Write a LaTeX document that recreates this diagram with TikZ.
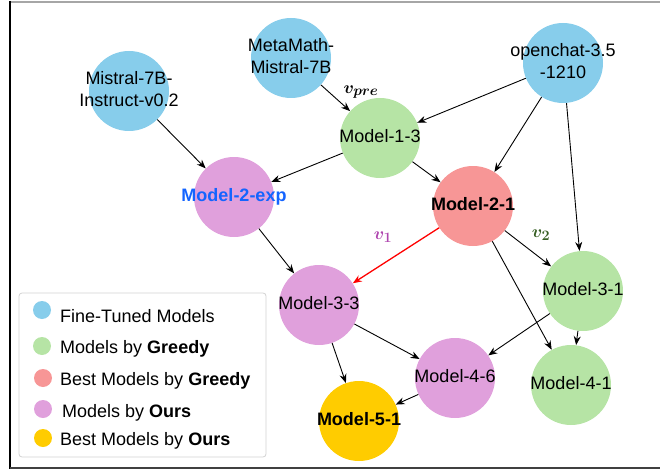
\documentclass[tikz,border=0pt]{standalone}
\usepackage{fontspec}
\setmainfont{Liberation Sans}
\usetikzlibrary{arrows.meta}
\definecolor{ftblue}{RGB}{135,205,235}
\definecolor{grgreen}{RGB}{182,228,165}
\definecolor{bestred}{RGB}{247,150,150}
\definecolor{ourpink}{RGB}{224,160,220}
\definecolor{bestgold}{RGB}{255,204,0}
\definecolor{expblue}{RGB}{20,100,255}
\definecolor{vpurple}{RGB}{175,70,175}
\definecolor{vgreen}{RGB}{55,95,35}
\newcommand{\ctxt}[1]{\makebox[0pt]{\begin{tabular}{@{}c@{}}#1\end{tabular}}}
\newcommand{\subtxt}[1]{\mbox{\fontsize{14}{14}\selectfont$#1$}}
\tikzset{
  mnode/.style={circle,minimum size=80pt,inner sep=0pt,font=\fontsize{18}{22}\selectfont},
  ft/.style={mnode,fill=ftblue},
  gr/.style={mnode,fill=grgreen},
  br/.style={mnode,fill=bestred},
  ou/.style={mnode,fill=ourpink},
  bo/.style={mnode,fill=bestgold},
  edge/.style={-{Stealth[length=9pt,width=7pt]},line width=0.9pt,black},
  redge/.style={-{Stealth[length=9pt,width=7pt]},line width=1.3pt,red},
  legdot/.style={circle,minimum size=18pt,inner sep=0pt},
  legtxt/.style={anchor=west,inner sep=0pt,font=\fontsize{18}{22}\selectfont},
  vlab/.style={font=\fontsize{19}{22}\selectfont\boldmath},
}
\begin{document}
\begin{tikzpicture}[x=1pt,y=-1pt]
\useasboundingbox (0,0) rectangle (660,473);
% frame
\draw[line width=2pt,gray!70] (10,2) -- (660,2);
\draw[line width=2.5pt,black] (10,1) -- (10,469);
\draw[line width=2pt,black!75] (10,467.5) -- (660,467.5);

% nodes
\node[ft] (mis) at (129,91) {\ctxt{Mistral-7B-\\Instruct-v0.2}};
\node[ft] (meta) at (291,58) {\ctxt{MetaMath-\\Mistral-7B}};
\node[ft] (oc) at (563,63) {\ctxt{openchat-3.5\\-1210}};
\node[gr] (m13) at (380,138) {\ctxt{Model-1-3}};
\node[ou] (m2e) at (234,197) {\ctxt{\textcolor{expblue}{\textbf{Model-2-exp}}}};
\node[br] (m21) at (473,206) {\ctxt{\textbf{Model-2-1}}};
\node[ou] (m33) at (319,305) {\ctxt{Model-3-3}};
\node[gr] (m31) at (583,291) {\ctxt{Model-3-1}};
\node[ou] (m46) at (455,378) {\ctxt{Model-4-6}};
\node[gr] (m41) at (571,385) {\ctxt{Model-4-1}};
\node[bo] (m51) at (359,421) {\ctxt{\textbf{Model-5-1}}};

% edges
\draw[edge] (meta) -- (m13);
\draw[edge] (oc) -- (m13);
\draw[edge] (oc) -- (m21);
\draw[edge] (oc) -- (m31);
\draw[edge] (mis) -- (m2e);
\draw[edge] (m13) -- (m2e);
\draw[edge] (m13) -- (m21);
\draw[redge] (m21) -- (m33);
\draw[edge] (m21) -- (m31);
\draw[edge] (m21) -- (m41);
\draw[edge] (m2e) -- (m33);
\draw[edge] (m31) -- (m46);
\draw[edge] (m31) -- (m41);
\draw[edge] (m33) -- (m46);
\draw[edge] (m33) -- (m51);
\draw[edge] (m46) -- (m51);

% edge labels
\node[vlab] (lpre) at (361,92) {$v_{\subtxt{pre}}$};
\node[vlab,text=vpurple] (lv1) at (383,237) {$v_{\subtxt{1}}$};
\node[vlab,text=vgreen] (lv2) at (541,235) {$v_{\subtxt{2}}$};

% legend
\draw[gray!35,line width=0.8pt,rounded corners=3pt] (19,293) rectangle (266,457);
\node[legdot,fill=ftblue] (d1) at (42,310) {};
\node[legtxt] (t1) at (60,316) {Fine-Tuned Models};
\node[legdot,fill=grgreen] (d2) at (42,346) {};
\node[legtxt] (t2) at (60,349) {Models by \textbf{Greedy}};
\node[legdot,fill=bestred] (d3) at (43,378) {};
\node[legtxt] (t3) at (60,381) {Best Models by \textbf{Greedy}};
\node[legdot,fill=ourpink] (d4) at (43,409) {};
\node[legtxt] (t4) at (62,413) {Models by \textbf{Ours}};
\node[legdot,fill=bestgold] (d5) at (43,438) {};
\node[legtxt] (t5) at (60,441) {Best Models by \textbf{Ours}};
\end{tikzpicture}
\end{document}
